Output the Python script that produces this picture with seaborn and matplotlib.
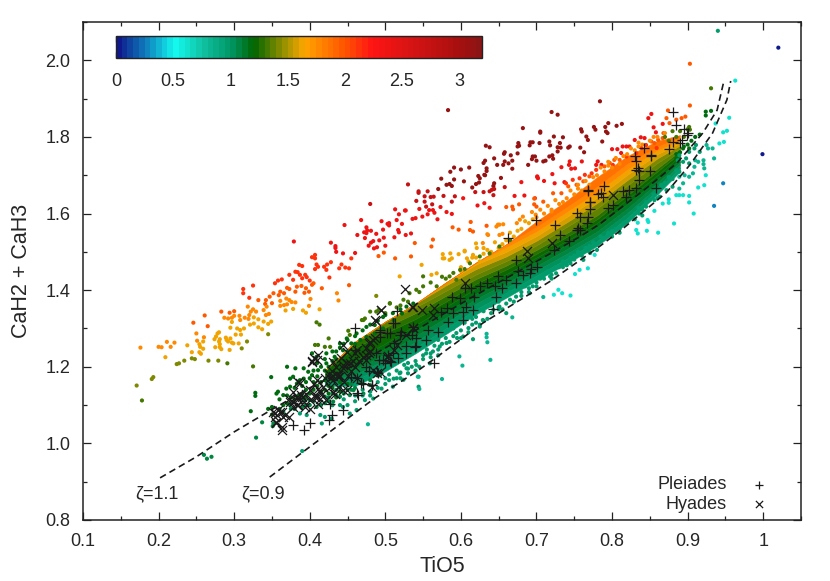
import numpy as np
import pandas as pd
import seaborn as sns
import matplotlib.pyplot as plt
from matplotlib.colors import LinearSegmentedColormap, Normalize
from matplotlib.cm import ScalarMappable
from matplotlib.ticker import MultipleLocator

# colour scale of the zeta parameter
scale_vals = [0, 0.25, 0.5, 0.75, 1.0, 1.2, 1.5, 1.65, 2.0, 2.25, 2.5, 3.0, 3.2]
scale_cols = ["#0f198c", "#0f82be", "#14faf0", "#10c0a0", "#009664", "#006400", "#aa9600",
              "#ffa500", "#ff5500", "#ff1414", "#e11414", "#aa0f0f", "#8c1414"]
scale_ticks = [0, 0.5, 1, 1.5, 2, 2.5, 3]
scale_labels = ["0", "0.5", "1", "1.5", "2", "2.5", "3"]

# stars, one list per colour
deep_red = [(.583,1.87),(.682,1.823),(.633,1.777),(.638,1.773),(.676,1.784),(.677,1.777),(.675,1.775),(.692,1.786),(.695,1.786),(.691,1.778),
    (.658,1.76),(.657,1.756),(.666,1.752),(.675,1.757),(.644,1.744),(.632,1.738),(.63,1.732),(.648,1.727),(.656,1.727),(.658,1.736),(.663,1.731),(.668,1.738),
    (.694,1.742),(.698,1.749),(.695,1.749),(.689,1.727),(.7,1.738),(.591,1.72),(.6,1.715),(.611,1.72),(.586,1.709),(.634,1.718),(.634,1.711),(.668,1.717),
    (.574,1.691),(.591,1.689),(.604,1.684),(.57,1.664),(.581,1.675),(.585,1.677),(.588,1.672),(.623,1.698),(.625,1.692),(.631,1.701),(.632,1.7),(.62,1.677),(.624,1.681),(.615,1.668),(.644,1.679),(.643,1.672),(.653,1.693),
    (.784,1.893),(.72,1.865),(.728,1.858),(.705,1.814),(.705,1.811),(.723,1.801),(.717,1.788),(.718,1.778),(.704,1.784),(.735,1.799),(.731,1.784),(.728,1.773),(.732,1.772),(.728,1.762),(.744,1.775),(.742,1.772),
    (.721,1.752),(.717,1.749),(.722,1.743),(.712,1.738),(.709,1.736),(.759,1.82),(.76,1.814),(.766,1.801),(.768,1.792),(.776,1.826),(.778,1.819),(.791,1.826),(.795,1.836),(.792,1.814),(.794,1.81),(.806,1.829),(.813,1.834),(.787,1.788),(.758,1.772),(.763,1.76)]
crimson = [(.53,1.676),(.544,1.658),(.544,1.654),(.556,1.658),(.541,1.633),(.552,1.645),(.56,1.643),(.564,1.644),(.552,1.631),(.562,1.624),(.554,1.618),(.577,1.646),(.48,1.625),(.592,1.645),(.588,1.631),
    (.619,1.656),(.63,1.656),(.638,1.658),(.641,1.662),(.644,1.664),(.643,1.648),(.658,1.669)]
red = [(.603,1.64),(.622,1.621),(.631,1.627),(.638,1.615),(.671,1.646),(.684,1.647),(.68,1.682),(.701,1.695),(.513,1.611),(.526,1.608),(.527,1.608),(.518,1.598),(.545,1.612),(.558,1.609),(.563,1.609),(.556,1.598),(.565,1.602),(.549,1.592),(.54,1.588),(.536,1.586),(.573,1.617),(.581,1.604),(.588,1.599),(.569,1.585),(.515,1.583),(.522,1.573),
    (.468,1.583),(.446,1.57),(.495,1.58),(.505,1.575),(.503,1.573),(.505,1.569),(.475,1.564),(.476,1.556),(.481,1.555),(.472,1.551),(.475,1.549),(.463,1.544),(.488,1.547),(.497,1.558),(.498,1.537),(.473,1.536),(.492,1.53),(.517,1.557),(.518,1.551),(.512,1.538),(.527,1.544),(.534,1.548),(.484,1.528),(.481,1.524),(.5,1.516),(.478,1.516),(.489,1.512),(.485,1.509),(.46,1.497),(.444,1.496),
    (.379,1.527),(.428,1.524),(.434,1.515),(.434,1.51),(.435,1.5),(.852,1.86),(.848,1.849),(.855,1.825),(.858,1.812),(.867,1.834),(.8,1.768),(.807,1.768),(.814,1.775),(.819,1.775),(.823,1.775),(.83,1.792),(.838,1.799),(.843,1.797),(.812,1.758),(.781,1.736),(.786,1.727),(.779,1.727),(.744,1.736),(.743,1.727),(.751,1.718),(.76,1.736),(.733,1.721),(.746,1.717),(.701,1.697),(.702,1.692),(.71,1.685),(.721,1.703),(.724,1.679),(.737,1.682)]
vermilion = [(.32,1.38),(.312,1.392),(.312,1.403),(.325,1.412),(.354,1.418),(.358,1.425),(.363,1.428),(.378,1.427),(.373,1.44),(.381,1.448),(.384,1.447),(.387,1.44),(.39,1.431),(.394,1.44),(.396,1.434),(.4,1.425),(.386,1.466),(.39,1.463),(.403,1.486),(.407,1.492),(.407,1.483),(.409,1.467),(.411,1.461),(.407,1.455),(.419,1.461),(.422,1.453),(.423,1.467),(.428,1.473),(.426,1.433),(.439,1.457),(.442,1.467),(.447,1.459),(.452,1.457),(.455,1.483),
    (.779,1.714),(.773,1.705),(.764,1.701),(.757,1.692),(.748,1.688),(.739,1.679),(.801,1.727),(.819,1.749),(.832,1.758),(.839,1.771),(.845,1.779),(.859,1.771),(.698,1.64)]
orange_red = [(.246,1.315),(.261,1.334),(.265,1.306),(.283,1.344),(.294,1.341),(.3,1.345),(.332,1.374),(.342,1.374),(.341,1.364),(.35,1.366),(.347,1.383),(.352,1.392),(.359,1.387),(.361,1.396),(.366,1.392),(.37,1.406),(.373,1.403),(.381,1.396),(.383,1.409),(.389,1.411),(.393,1.393),(.399,1.396),(.395,1.405),(.405,1.418),(.403,1.414),(.416,1.405),(.452,1.413),
    (.589,1.564),(.597,1.558),(.612,1.557),(.616,1.553),(.613,1.578),(.634,1.568),(.563,1.532),(.561,1.514),(.539,1.523),(.491,1.489),(.513,1.483),(.534,1.488),(.66,1.617),(.668,1.618),(.669,1.611),(.677,1.624),(.697,1.639),(.697,1.624),(.903,1.991),(.498,1.498),
    (.874,1.869),(.903,1.882),(.897,1.853),(.892,1.849),(.872,1.849),(.885,1.845),(.876,1.836),(.868,1.81),(.867,1.797),(.861,1.792),(.852,1.788),(.856,1.784),(.81,1.74),(.803,1.74),(.797,1.732),(.79,1.723),(.77,1.697),(.762,1.684),(.753,1.675),(.742,1.671),(.733,1.653),(.722,1.653),(.709,1.631),(.7,1.618)]
orange = [(.176,1.25),(.2,1.252),(.204,1.251),(.211,1.265),(.221,1.263),(.216,1.252),(.25,1.287),(.251,1.268),(.26,1.277),(.287,1.328),(.292,1.326),(.297,1.328),(.3,1.333),(.307,1.333),(.308,1.322),(.314,1.328),(.32,1.335),(.319,1.325),(.342,1.335),(.346,1.338),(.339,1.348),(.343,1.357),(.329,1.344),(.325,1.35),(.322,1.344),(.318,1.357),(.361,1.372),(.369,1.378),(.373,1.374),(.361,1.359),(.366,1.361),(.37,1.363),(.376,1.369),(.381,1.368),(.399,1.359),(.401,1.377),(.436,1.392),(.438,1.373),
    (.694,1.604),(.699,1.597),(.682,1.592),(.678,1.584),(.674,1.575),(.656,1.572),(.651,1.571),(.647,1.566),(.635,1.546),(.655,1.547),(.651,1.544),(.636,1.544),(.649,1.571),(.629,1.523),
    (.7,1.59),(.71,1.6),(.72,1.61),(.73,1.625),(.74,1.64),(.75,1.65),(.76,1.66),(.77,1.675),(.78,1.7),(.79,1.71),(.8,1.72),(.81,1.73),(.82,1.755),(.83,1.765),(.84,1.78),(.85,1.79),(.86,1.8),(.87,1.81),(.705,1.61),(.725,1.635),(.745,1.66),(.765,1.685),(.785,1.72),(.805,1.745),(.825,1.77),
    (.72,1.605),(.735,1.63),(.755,1.665),(.775,1.695),(.795,1.725),(.815,1.75),(.835,1.775),(.855,1.8),(.715,1.62),(.755,1.675),(.795,1.735),(.835,1.785)]
amber = [(.209,1.225),(.238,1.256),(.244,1.238),(.254,1.259),(.255,1.252),(.259,1.266),(.259,1.247),(.254,1.238),(.256,1.234),(.275,1.251),(.281,1.251),(.274,1.272),(.278,1.287),(.28,1.29),(.276,1.279),(.281,1.272),(.28,1.266),(.281,1.259),(.283,1.246),(.289,1.276),(.29,1.27),(.292,1.266),(.295,1.274),(.297,1.263),(.299,1.261),(.294,1.244),(.306,1.261),(.302,1.284),(.309,1.284),(.308,1.296),(.304,1.3),(.295,1.302),(.297,1.317),(.313,1.3),(.321,1.31),(.326,1.329),(.326,1.313),(.332,1.324),(.332,1.303),(.337,1.298),(.339,1.318),(.345,1.312),(.349,1.318),(.378,1.351),(.368,1.347),(.391,1.347),(.395,1.341),(.413,1.35),
    (.62,1.522),(.63,1.51),(.605,1.503),(.597,1.494),(.586,1.496),(.576,1.494),(.608,1.483),(.588,1.483),(.578,1.483),(.548,1.466),(.519,1.436),(.561,1.44),(.568,1.444),(.576,1.483),(.585,1.479),(.605,1.501),(.616,1.492),(.621,1.51),
    (.64,1.5),(.65,1.51),(.66,1.53),(.67,1.54),(.68,1.56),(.69,1.575),(.645,1.525),(.665,1.55),(.685,1.58),(.6,1.46),(.61,1.475),(.62,1.485),(.63,1.495),
    (.6,1.45),(.615,1.485),(.625,1.475),(.635,1.505),(.655,1.52),(.675,1.555),(.695,1.585)]
gold = [(.171,1.151),(.191,1.168),(.193,1.173),(.224,1.207),(.227,1.209),(.234,1.216),(.244,1.222),(.248,1.22),(.266,1.216),(.279,1.216),(.31,1.248),(.317,1.266),(.345,1.285),(.488,1.385)]
olive = [(.178,1.112),(.291,1.209),(.409,1.316),(.413,1.31),(.325,1.201),(.931,1.927),(.902,1.826),(.903,1.819),(.425,1.274),(.42,1.252),(.411,1.257),(.407,1.257),(.427,1.252),(.451,1.294),(.453,1.283),(.469,1.322),(.473,1.326),(.48,1.344),(.506,1.365),(.491,1.348),
    (.55,1.436),(.541,1.401),(.524,1.375),(.506,1.366),(.488,1.344),(.471,1.322),(.532,1.392),(.568,1.41),(.585,1.436),(.599,1.453),(.612,1.47),(.625,1.488),(.638,1.496),(.651,1.514),(.665,1.531),(.594,1.427),
    (.87,1.8),(.88,1.815),(.89,1.815),(.9,1.82),(.875,1.79),(.885,1.8),(.895,1.8),
    (.5,1.34),(.515,1.355),(.53,1.37),(.545,1.395),(.56,1.42),(.575,1.435),(.59,1.445),(.605,1.455),(.52,1.36),(.55,1.41),(.58,1.43)]
dark_green = [(.349,1.173),(.328,1.132),(.328,1.124),(.322,1.084),(.37,1.2),(.916,1.806),(.924,1.866),(.924,1.856),(.931,1.868),(.902,1.77),(.894,1.77),(.889,1.757),(.885,1.744),
    (.403,1.235),(.392,1.196),(.381,1.196),(.374,1.169),(.378,1.174),(.356,1.13),(.365,1.126),(.358,1.135),(.387,1.165),(.398,1.187),(.409,1.226),(.422,1.235),(.44,1.261),(.449,1.274),(.462,1.287),(.475,1.304),(.486,1.309),(.497,1.33),(.369,1.143),(.374,1.148),(.383,1.156),(.392,1.169),(.403,1.178),(.411,1.191),(.422,1.209),(.433,1.226),(.444,1.243),(.455,1.261),(.467,1.27),(.475,1.278),(.486,1.287),(.497,1.3),(.511,1.322),(.522,1.339),(.528,1.357),(.537,1.365),
    (.405,1.14),(.405,1.16),(.405,1.19),(.41,1.15),(.41,1.175),(.41,1.21),(.415,1.135),(.415,1.16),(.415,1.2),(.42,1.14),(.42,1.19),(.42,1.22),(.39,1.13),(.39,1.15),(.395,1.12),(.395,1.14),(.395,1.16),(.38,1.115),(.38,1.145),(.375,1.12),(.37,1.105),(.37,1.125),(.365,1.1),(.36,1.09),(.36,1.115),(.35,1.075),(.35,1.095),(.345,1.09),(.385,1.125),(.4,1.13),(.4,1.17),(.43,1.24),(.435,1.24),(.44,1.25),(.445,1.26),(.45,1.27),(.46,1.28),(.47,1.295),(.48,1.31),(.49,1.32),(.5,1.335),(.51,1.34),(.52,1.35),
    (.89,1.76),(.9,1.78),(.905,1.79),(.91,1.8),(.895,1.775),(.885,1.755),
    (.425,1.15),(.425,1.2),(.43,1.165),(.43,1.215),(.435,1.18),(.435,1.22),(.44,1.16),(.44,1.2),(.445,1.22),(.45,1.19),(.45,1.24),(.455,1.22),(.46,1.26),(.42,1.165),(.43,1.145),(.44,1.135),(.45,1.155),(.425,1.13),(.435,1.12)]
mid_green = [(.337,1.055),(.351,1.045),(.352,1.052),(.329,1.015),(.365,1.082),(.374,1.1),(.392,1.113),(.4,1.113),(.409,1.095),(.42,1.122),(.431,1.109),(.44,1.122),(.453,1.126),(.458,1.139),(.471,1.13),(.48,1.152),(.493,1.178),(.26,.97),(.27,.965),(.264,.96),
    (.38,1.09),(.39,1.095),(.395,1.1),(.405,1.11),(.41,1.125),(.42,1.105),(.425,1.12),(.43,1.13),(.435,1.14),(.44,1.145),(.45,1.14),(.455,1.155),(.465,1.16),(.375,1.09),(.4,1.1),(.415,1.1),(.43,1.1),
    (.425,1.11),(.435,1.125),(.445,1.13),(.455,1.14),(.46,1.145),(.47,1.155),(.48,1.165),(.49,1.18)]
sea_green = [(.585,1.305),(.594,1.288),(.603,1.279),(.616,1.272),(.625,1.305),(.61,1.301),(.581,1.262),(.572,1.253),(.563,1.24),(.559,1.209),(.554,1.235),(.541,1.205),(.53,1.183),(.524,1.166),(.51,1.148),(.629,1.322),(.643,1.349),(.651,1.357),(.66,1.34),(.673,1.383),(.691,1.392),(.7,1.41),(.718,1.436),(.726,1.444),(.74,1.466),(.762,1.479),(.771,1.497),
    (.387,1.078),(.396,1.074),(.414,1.074),(.416,1.052),(.42,1.069),(.429,1.065),(.444,1.095),(.453,1.078),(.462,1.087),(.473,1.113),(.484,1.117),(.495,1.143),(.511,1.169),(.519,1.183),(.528,1.196),(.544,1.174),(.544,1.148),(.94,2.077),(.39,.98),
    (.916,1.761),(.909,1.77),(.911,1.779),(.902,1.761),(.889,1.752),(.887,1.739),(.898,1.744),(.902,1.731),(.894,1.735),(.885,1.713),(.889,1.709),(.876,1.687),(.88,1.67),(.867,1.67),(.872,1.661),(.863,1.644),(.856,1.635),(.845,1.618),(.836,1.6),
    (.43,1.10),(.445,1.115),(.46,1.125),(.47,1.14),(.48,1.135),(.49,1.16),(.5,1.17),(.505,1.18),(.515,1.19),(.525,1.205),(.53,1.21),(.54,1.215),(.55,1.23),(.555,1.245),(.565,1.255),(.57,1.27),(.58,1.275),(.59,1.3),(.595,1.31),(.605,1.315),(.615,1.325),(.62,1.33),(.63,1.345),(.64,1.36),(.65,1.37),(.66,1.385),(.665,1.395),(.675,1.405),(.685,1.41),(.695,1.425),(.705,1.43),(.715,1.45),(.725,1.46),(.735,1.475),(.745,1.485),(.755,1.5),(.765,1.51),(.775,1.525),(.785,1.54),(.795,1.55),(.805,1.56),(.815,1.575),(.825,1.59),(.835,1.615),(.845,1.63),(.855,1.65),(.865,1.675),(.875,1.695),
    (.44,1.10),(.47,1.125),(.5,1.155),(.53,1.195),(.56,1.235),(.59,1.28),(.62,1.315),(.65,1.35),(.68,1.395),(.71,1.43),(.74,1.465),(.77,1.5),(.8,1.54),(.83,1.585),(.86,1.64),
    (.505,1.165),(.515,1.17),(.52,1.185),(.535,1.2),(.545,1.2),(.55,1.22),(.56,1.225),(.57,1.245),(.575,1.26),(.585,1.265),(.595,1.275),(.6,1.295),(.61,1.29),(.615,1.31),(.625,1.31),(.635,1.325),(.64,1.34),(.65,1.355),(.655,1.35),(.665,1.375),(.67,1.37),(.68,1.385),(.69,1.405),(.695,1.41),(.7,1.42),(.71,1.44),(.72,1.44),(.73,1.46),(.735,1.46),(.745,1.47),(.75,1.49),(.76,1.49),(.77,1.515),(.78,1.52),(.79,1.535),(.8,1.555),(.81,1.56),(.82,1.58),(.83,1.6),(.84,1.61),(.85,1.635),(.86,1.655),(.87,1.68),(.88,1.69),(.46,1.11),(.48,1.125),(.49,1.145),(.45,1.10),(.52,1.17),(.54,1.19),(.57,1.23),(.6,1.275),(.63,1.32),(.66,1.365),(.69,1.395),(.72,1.43),(.75,1.48),(.78,1.505),(.81,1.55),(.84,1.595)]
teal = [(.639,1.218),(.602,1.203),(.575,1.168),(.545,1.142),(.543,1.174),(.598,1.227),(.635,1.264),(.634,1.286),(.634,1.277),(.668,1.329),(.709,1.382),(.477,1.05),(.933,1.77),(.935,1.744),(.925,1.779),(.927,1.77),(.921,1.739),(.921,1.729),(.922,1.718),(.909,1.722),(.914,1.735),(.907,1.705),(.91,1.739),(.896,1.7),(.889,1.696),(.894,1.679),(.902,1.696),(.889,1.665)]
turquoise = [(.723,1.388),(.729,1.401),(.734,1.392),(.745,1.386),(.751,1.442),(.757,1.453),(.768,1.457),(.777,1.492),(.963,1.947),(.908,1.6),(.882,1.574),(.861,1.55),(.832,1.557),(.834,1.548),(.846,1.555),(.955,1.85),(.952,1.816),(.947,1.812),(.948,1.787),(.942,1.783),(.937,1.835),(.924,1.7),(.922,1.674),(.914,1.668),(.902,1.629),(.902,1.646),(.875,1.628),(.875,1.637),(.847,1.583),(.848,1.578),(.856,1.607),(.834,1.576),(.867,1.626),(.885,1.648),(.889,1.648),(.894,1.648)]
blue = [(.947,1.679),(.935,1.62)]
navy = [(1.02,2.033),(.999,1.755)]
star_groups = [(deep_red, 3.1), (crimson, 2.7), (red, 2.4), (vermilion, 2.15), (orange_red, 1.95), (orange, 1.75),
               (amber, 1.6), (gold, 1.45), (olive, 1.3), (dark_green, 1.18), (mid_green, 1.05), (sea_green, 0.97),
               (teal, 0.8), (turquoise, 0.62), (blue, 0.28), (navy, 0.03)]

# dense core of the sequence: CaH2+CaH3 of the borders between colour bands along TiO5
core_x = [.42, .46, .50, .54, .58, .62, .66, .70, .74, .78, .82, .86, .89]
core_b0 = [1.15, 1.15, 1.188, 1.235, 1.285, 1.337, 1.38, 1.425, 1.469, 1.515, 1.575, 1.65, 1.71]
core_b1 = [1.155, 1.165, 1.203, 1.25, 1.3, 1.35, 1.393, 1.438, 1.482, 1.528, 1.588, 1.66, 1.72]
core_b2 = [1.16, 1.18, 1.218, 1.265, 1.315, 1.365, 1.406, 1.451, 1.495, 1.541, 1.601, 1.67, 1.728]
core_b3 = [1.165, 1.193, 1.233, 1.28, 1.328, 1.377, 1.418, 1.463, 1.507, 1.553, 1.613, 1.68, 1.735]
core_b4 = [1.17, 1.205, 1.248, 1.295, 1.342, 1.391, 1.43, 1.475, 1.519, 1.565, 1.625, 1.69, 1.742]
core_b5 = [1.175, 1.217, 1.261, 1.309, 1.356, 1.405, 1.442, 1.485, 1.529, 1.575, 1.637, 1.7, 1.75]
core_b6 = [1.19, 1.25, 1.288, 1.325, 1.37, 1.417, 1.454, 1.495, 1.539, 1.585, 1.647, 1.71, 1.758]
core_b7 = [1.19, 1.265, 1.303, 1.34, 1.385, 1.429, 1.464, 1.505, 1.549, 1.595, 1.657, 1.718, 1.764]
core_b8 = [1.19, 1.265, 1.318, 1.355, 1.398, 1.441, 1.476, 1.517, 1.565, 1.613, 1.673, 1.732, 1.77]
core_b9 = [1.19, 1.265, 1.318, 1.365, 1.412, 1.455, 1.488, 1.529, 1.577, 1.627, 1.687, 1.744, 1.778]
core_b10 = [1.19, 1.265, 1.318, 1.365, 1.42, 1.467, 1.5, 1.541, 1.591, 1.641, 1.701, 1.755, 1.784]
core_b11 = [1.19, 1.265, 1.318, 1.365, 1.42, 1.472, 1.512, 1.553, 1.604, 1.655, 1.715, 1.765, 1.79]
core_b12 = [1.19, 1.265, 1.318, 1.365, 1.42, 1.472, 1.52, 1.565, 1.617, 1.67, 1.73, 1.775, 1.798]
core_b13 = [1.19, 1.265, 1.318, 1.365, 1.42, 1.472, 1.52, 1.58, 1.634, 1.695, 1.75, 1.79, 1.805]
core_borders = [core_b0, core_b1, core_b2, core_b3, core_b4, core_b5, core_b6, core_b7, core_b8, core_b9, core_b10, core_b11, core_b12, core_b13]
core_zeta = [0.97, 1.02, 1.07, 1.12, 1.18, 1.22, 1.27, 1.35, 1.45, 1.55, 1.65, 1.75, 1.85]

# model loci
zeta11_x = [.202, .25, .30, .347, .40, .47, .54, .616, .70, .757, .784, .846, .886, .92, .939, .948]
zeta11_y = [.91, .965, 1.03, 1.085, 1.145, 1.215, 1.295, 1.383, 1.475, 1.539, 1.573, 1.667, 1.732, 1.81, 1.87, 1.946]
zeta09_x = [.347, .394, .486, .541, .563, .629, .718, .784, .814, .872, .903, .933, .952, .957]
zeta09_y = [.912, .982, 1.118, 1.187, 1.218, 1.314, 1.423, 1.515, 1.56, 1.655, 1.727, 1.81, 1.897, 1.946]

# clusters
pleiades = [(.768,1.661),(.771,1.631),(.771,1.611),(.768,1.592),(.767,1.575),(.7,1.582),(.725,1.571),(.731,1.543),(.753,1.601),(.757,1.592),(.755,1.562),(.753,1.557),(.757,1.557),(.743,1.529),(.723,1.505),(.662,1.537),(.673,1.479),(.701,1.46),(.693,1.455),(.691,1.444),(.682,1.44),(.676,1.449),(.673,1.418),(.66,1.427),(.649,1.436),(.655,1.405),(.645,1.41),(.635,1.418),(.625,1.41),(.614,1.405),(.605,1.405),
    (.647,1.383),(.618,1.382),(.599,1.379),(.588,1.383),(.643,1.35),(.607,1.357),(.616,1.347),(.581,1.353),(.603,1.344),(.59,1.34),(.574,1.344),(.603,1.322),(.583,1.318),(.57,1.292),(.557,1.296),(.554,1.27),(.541,1.275),(.537,1.305),(.51,1.314),(.515,1.346),(.521,1.292),(.506,1.288),(.493,1.296),(.493,1.279),(.528,1.253),(.541,1.253),(.51,1.235),(.506,1.214),(.497,1.218),(.488,1.235),(.475,1.2),(.479,1.188),(.49,1.183),(.565,1.209),(.46,1.301),(.468,1.157),(.482,1.153),(.462,1.131),(.455,1.174),(.46,1.244),
    (.881,1.864),(.885,1.832),(.895,1.82),(.9,1.81),(.899,1.806),(.892,1.792),(.89,1.785),(.881,1.788),(.876,1.768),(.842,1.771),(.83,1.751),(.832,1.736),(.834,1.718),(.832,1.714),(.836,1.71),(.85,1.712),(.836,1.688),(.852,1.753),(.851,1.751),(.858,1.666),(.832,1.666),(.823,1.662),(.814,1.658),(.819,1.644),(.79,1.671),(.786,1.653),(.781,1.651),(.788,1.644),(.768,1.66),(.771,1.631),(.801,1.623),(.795,1.614),
    (.378,1.048),(.392,1.034),(.4,1.052),(.425,1.061),(.429,1.074),(.444,1.087),(.427,1.104),(.464,1.126),(.482,1.152),(.471,1.156),(.462,1.17),(.5,1.209),(.508,1.213),(.517,1.222),(.504,1.23),(.491,1.217),(.493,1.291),(.502,1.287),(.513,1.313),(.519,1.283),(.535,1.283),(.539,1.252),(.528,1.235),(.511,1.261),(.489,1.187)]
hyades = [(.494,1.348),(.488,1.319),(.536,1.355),(.444,1.256),(.411,1.23),(.405,1.222),(.403,1.213),(.385,1.161),(.378,1.135),(.373,1.117),(.378,1.109),(.385,1.117),(.389,1.126),(.383,1.1),(.394,1.095),(.4,1.091),(.352,1.082),(.358,1.087),(.363,1.082),(.354,1.069),(.365,1.069),(.372,1.069),(.356,1.052),(.363,1.035),
    (.411,1.143),(.416,1.13),(.407,1.122),(.414,1.117),(.427,1.17),(.438,1.174),(.427,1.148),(.433,1.13),(.449,1.139),(.444,1.204),(.453,1.209),(.442,1.222),(.431,1.213),(.462,1.243),(.449,1.239),(.475,1.217),(.48,1.265),(.486,1.274),(.478,1.235),(.493,1.187),(.489,1.183),(.462,1.17),(.537,1.3),(.528,1.283),(.515,1.256),(.502,1.226),(.511,1.243),(.484,1.191),(.431,1.165),(.422,1.113),(.411,1.104),
    (.526,1.404),(.605,1.418),(.494,1.347),(.487,1.322),(.535,1.356),(.548,1.347),(.565,1.353),(.563,1.335),(.537,1.301),(.687,1.501),(.689,1.483),(.72,1.523),(.479,1.262),(.484,1.27),(.475,1.231),(.457,1.214),(.504,1.227),(.482,1.148),(.801,1.649),
    (.354,1.079),(.361,1.083),(.367,1.075),(.356,1.057),(.363,1.044),(.374,1.109),(.383,1.122),(.392,1.109),(.378,1.096),(.385,1.1),(.409,1.218),(.403,1.214),(.387,1.157),(.414,1.135),(.409,1.122),(.4,1.114),(.431,1.175),(.438,1.179),(.444,1.196),(.449,1.209),(.46,1.235),(.444,1.14),(.431,1.131),(.438,1.148),(.418,1.148),(.407,1.127),
    (.39,1.12),(.395,1.13),(.4,1.14),(.405,1.155),(.41,1.165),(.42,1.17),(.425,1.18),(.43,1.19),(.435,1.2),(.44,1.175),(.445,1.16),(.45,1.175),(.455,1.19),(.46,1.2),(.465,1.215),(.47,1.225),(.475,1.25),(.48,1.24)]

sns.set_theme(style="ticks")
plt.rcParams["font.family"] = ["Liberation Sans", "DejaVu Sans"]
plt.rcParams["axes.linewidth"] = 1.1
plt.rcParams["axes.edgecolor"] = "#222222"

cmap = LinearSegmentedColormap.from_list("zeta", [(v / 3.2, c) for v, c in zip(scale_vals, scale_cols)], N=64)
norm = Normalize(0, 3.2)

fig = plt.figure(figsize=(8.3, 5.81), dpi=100)
ax = fig.add_axes([83 / 830, 1 - 520 / 581, 718 / 830, 498 / 581])

stars = pd.concat([pd.DataFrame(pts, columns=["tio5", "cah"]).assign(zeta=z) for pts, z in star_groups], ignore_index=True)

for lower, upper, z in zip(core_borders[:-1], core_borders[1:], core_zeta):
    ax.fill_between(core_x, lower, upper, color=cmap(norm(z)), linewidth=0.3, zorder=3)

sns.scatterplot(data=stars, x="tio5", y="cah", hue="zeta", palette=cmap, hue_norm=norm, s=9, linewidth=0, legend=False, ax=ax, zorder=4)

ax.plot(zeta11_x, zeta11_y, color="k", lw=1.2, dashes=(4, 2.5), zorder=5)
ax.plot(zeta09_x, zeta09_y, color="k", lw=1.2, dashes=(4, 2.5), zorder=5)

sns.scatterplot(x=[p[0] for p in pleiades], y=[p[1] for p in pleiades], marker="+", s=60, color="k", linewidth=0.9, ax=ax, zorder=6, label="Pleiades")
sns.scatterplot(x=[p[0] for p in hyades], y=[p[1] for p in hyades], marker="x", s=42, color="k", linewidth=0.9, ax=ax, zorder=6, label="Hyades")

ax.text(.169, .868, "ζ=1.1", fontsize=13, ha="left", va="center")
ax.text(.309, .868, "ζ=0.9", fontsize=13, ha="left", va="center")

ax.set_xlim(0.1, 1.05)
ax.set_ylim(0.8, 2.1)
ax.set_xlabel("TiO5", fontsize=15.5, labelpad=5)
ax.set_ylabel("CaH2 + CaH3", fontsize=15.5, labelpad=10)
ax.xaxis.set_major_locator(MultipleLocator(0.1))
ax.xaxis.set_minor_locator(MultipleLocator(0.05))
ax.yaxis.set_major_locator(MultipleLocator(0.2))
ax.yaxis.set_minor_locator(MultipleLocator(0.1))
ax.set_xticks(np.arange(0.1, 1.01, 0.1))
ax.set_xticklabels(["0.1", "0.2", "0.3", "0.4", "0.5", "0.6", "0.7", "0.8", "0.9", "1"])
ax.tick_params(which="major", direction="in", top=True, right=True, length=6, width=0.9, labelsize=13, pad=9, color="#222222")
ax.tick_params(which="minor", direction="in", top=True, right=True, length=3, width=0.9, color="#222222")

ax.legend(loc="lower right", frameon=False, markerfirst=False, fontsize=13, labelspacing=0.15, handletextpad=0.8, markerscale=0.8,
          borderaxespad=0.2, bbox_to_anchor=(0.982, -0.008))

cax = fig.add_axes([116 / 830, 1 - 58 / 581, 366 / 830, 22 / 581])
cbar = fig.colorbar(ScalarMappable(norm=norm, cmap=cmap), cax=cax, orientation="horizontal")
cbar.set_ticks(scale_ticks)
cbar.set_ticklabels(scale_labels)
cbar.ax.tick_params(direction="in", top=True, bottom=True, length=4, width=0.9, labelsize=13, pad=11, color="k")
cbar.outline.set_linewidth(1.0)

fig.savefig("out.png", dpi=100)
